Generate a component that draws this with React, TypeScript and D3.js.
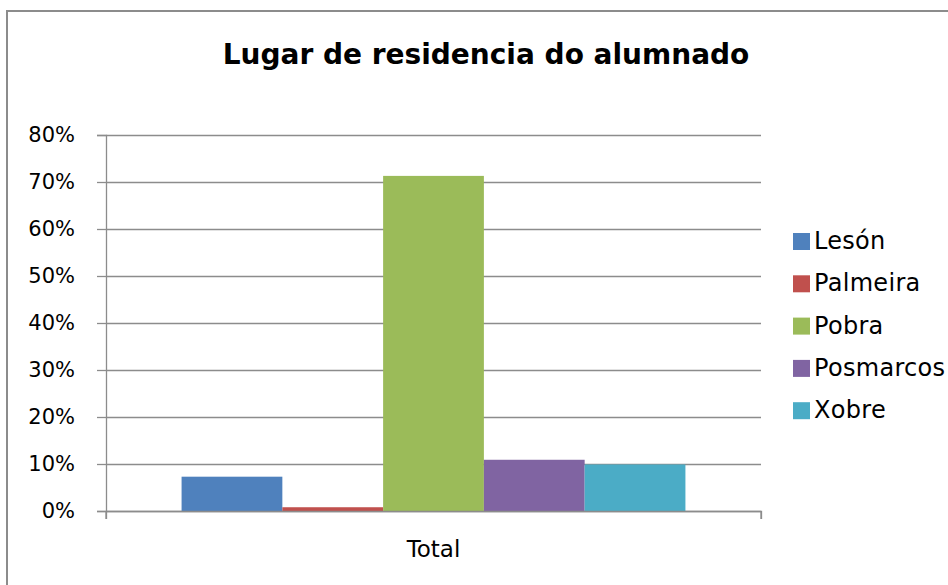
import React, { useEffect, useRef } from 'react'
import * as d3 from 'd3'

const categories = ['Total']
const seriesNames = ['Lesón', 'Palmeira', 'Pobra', 'Posmarcos', 'Xobre']
const seriesValues = [0.073, 0.008, 0.713, 0.109, 0.099]
const seriesColors = ['#4f81bd', '#c0504d', '#9bbb59', '#8064a2', '#4bacc6']
const yTicks = [0, 0.1, 0.2, 0.3, 0.4, 0.5, 0.6, 0.7, 0.8]

function App() {
    const ref = useRef<SVGSVGElement>(null)

    useEffect(() => {
        draw()
    }, [])

    const draw = () => {
        const width = 948
        const height = 585
        const plot = { left: 106, right: 761, top: 135, bottom: 511 }
        const font = "'DejaVu Sans', sans-serif"

        const svg = d3.select(ref.current)
        svg.selectAll('*').remove()

        svg.append('rect')
            .attr('x', 7).attr('y', 11)
            .attr('width', width + 10).attr('height', height + 10)
            .attr('fill', 'white')
            .attr('stroke', '#8c8c8c')
            .attr('stroke-width', 2)

        svg.append('text')
            .attr('x', 486).attr('y', 64)
            .attr('text-anchor', 'middle')
            .attr('font-family', font)
            .attr('font-weight', 'bold')
            .attr('font-size', 28)
            .attr('fill', '#000')
            .text('Lugar de residencia do alumnado')

        const yScale = d3.scaleLinear().domain([0, 0.8]).range([plot.bottom, plot.top])
        const xScale = d3.scaleBand().domain(categories).range([plot.left, plot.right])
        // 5 bars, gap of 150% of one bar width
        const barW = xScale.bandwidth() / (seriesNames.length + 1.5)
        const xInner = d3.scaleBand()
            .domain(seriesNames)
            .range([0, barW * seriesNames.length])

        // grid
        svg.append('g')
            .attr('transform', `translate(${plot.left},0)`)
            .call(d3.axisLeft(yScale).tickValues(yTicks).tickSize(-(plot.right - plot.left)).tickFormat(() => ''))
            .call(g => g.select('.domain').remove())
            .call(g => g.selectAll('line').attr('stroke', '#8c8c8c').attr('stroke-width', 1.3))

        // y axis
        svg.append('g')
            .attr('transform', `translate(${plot.left},0)`)
            .call(d3.axisLeft(yScale).tickValues(yTicks).tickSize(9).tickPadding(22).tickFormat(d3.format('.0%')))
            .call(g => g.select('.domain').attr('stroke', '#8c8c8c').attr('stroke-width', 1.3))
            .call(g => g.selectAll('line').attr('stroke', '#8c8c8c').attr('stroke-width', 1.3))
            .call(g => g.selectAll('text')
                .attr('font-family', font)
                .attr('font-size', 21)
                .attr('fill', '#000'))

        // bars
        const group = svg.append('g')
            .attr('transform', `translate(${xScale('Total')! + (xScale.bandwidth() - barW * seriesNames.length) / 2},0)`)
        group.selectAll('rect')
            .data(seriesValues)
            .enter()
            .append('rect')
            .attr('x', (d, i) => xInner(seriesNames[i])!)
            .attr('y', d => yScale(d))
            .attr('width', xInner.bandwidth())
            .attr('height', d => plot.bottom - yScale(d))
            .attr('fill', (d, i) => seriesColors[i])

        // x axis
        svg.append('g')
            .attr('transform', `translate(0,${plot.bottom})`)
            .call(d3.axisBottom(xScale).tickSize(8).tickPadding(22))
            .call(g => g.select('.domain').attr('stroke', '#8c8c8c').attr('stroke-width', 1.3))
            .call(g => g.selectAll('line').remove())
            .call(g => g.selectAll('text')
                .attr('font-family', font)
                .attr('font-size', 23)
                .attr('fill', '#000'))
        svg.append('g')
            .selectAll('line')
            .data([plot.left, plot.right])
            .enter()
            .append('line')
            .attr('x1', d => d).attr('x2', d => d)
            .attr('y1', plot.bottom).attr('y2', plot.bottom + 8)
            .attr('stroke', '#8c8c8c').attr('stroke-width', 1.3)

        // legend
        const legend = svg.append('g').attr('transform', 'translate(793,233)')
        const rows = legend.selectAll('g')
            .data(seriesNames)
            .enter()
            .append('g')
            .attr('transform', (d, i) => `translate(0,${i * 42.3})`)
        rows.append('rect')
            .attr('x', 0).attr('y', 0)
            .attr('width', 17).attr('height', 17)
            .attr('fill', (d, i) => seriesColors[i])
        rows.append('text')
            .attr('x', 21).attr('y', 16)
            .attr('font-family', font)
            .attr('font-size', 24)
            .attr('letter-spacing', 0.3)
            .attr('fill', '#000')
            .text(d => d)
    }

    return (
        <svg ref={ref} width={948} height={585}
            style={{ position: 'absolute', left: 0, top: 0, background: 'white' }} />
    )
}

export default App
